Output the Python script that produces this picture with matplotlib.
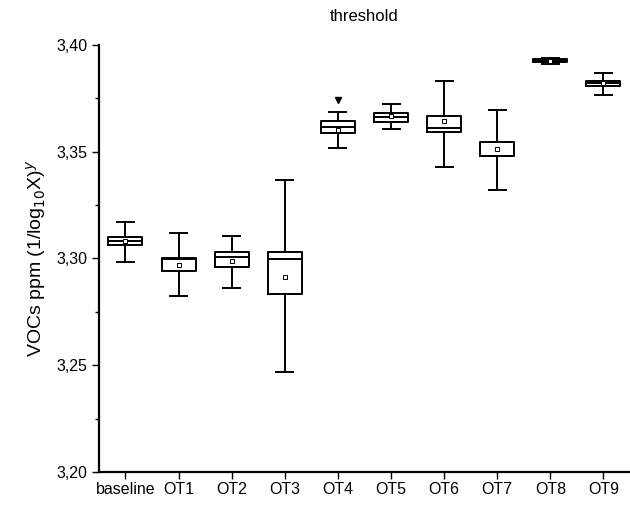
#!/usr/bin/env python3
# -*- coding:utf-8 -*-
from matplotlib import pyplot as plt
from matplotlib.ticker import MultipleLocator, FormatStrFormatter

plt.rcParams['font.family'] = ['Liberation Sans', 'DejaVu Sans']

labels = ["baseline", "OT1", "OT2", "OT3", "OT4", "OT5", "OT6", "OT7", "OT8", "OT9"]
whisk_lo = [3.2984, 3.2826, 3.2862, 3.2467, 3.3516, 3.3608, 3.3430, 3.3322, 3.3912, 3.3767]
q1 = [3.3062, 3.2943, 3.2962, 3.2832, 3.3586, 3.3641, 3.3594, 3.3479, 3.3918, 3.3810]
medians = [3.3081, 3.2999, 3.3008, 3.2999, 3.3617, 3.3661, 3.3613, 3.3479, 3.3925, 3.3821]
q3 = [3.3099, 3.3002, 3.3029, 3.3029, 3.3645, 3.3680, 3.3669, 3.3546, 3.3932, 3.3833]
whisk_hi = [3.3172, 3.3121, 3.3105, 3.3368, 3.3686, 3.3724, 3.3831, 3.3696, 3.3938, 3.3867]
means = [3.3081, 3.2971, 3.2990, 3.2913, 3.3602, 3.3667, 3.3645, 3.3511, 3.3925, 3.3821]
outliers = [[], [], [], [], [3.3742], [], [], [], [], []]

stats = []
for i in range(len(labels)):
    stats.append({
        "label": labels[i],
        "whislo": whisk_lo[i], "q1": q1[i], "med": medians[i],
        "q3": q3[i], "whishi": whisk_hi[i],
        "mean": means[i], "fliers": outliers[i],
    })

fig = plt.figure(figsize=(6.30, 5.09), dpi=100)
ax = fig.add_axes([0.157, 0.0727, 0.843, 0.839])

lw = 1.4
ax.bxp(stats, positions=range(1, len(labels) + 1), widths=0.64,
       showmeans=True, showfliers=True,
       boxprops=dict(color="black", linewidth=lw),
       medianprops=dict(color="black", linewidth=lw),
       whiskerprops=dict(color="black", linewidth=lw),
       capprops=dict(color="black", linewidth=lw),
       capwidths=0.32,
       meanprops=dict(marker="s", markersize=3, markerfacecolor="white",
                      markeredgecolor="black", markeredgewidth=0.7),
       flierprops=dict(marker="v", markersize=4, markerfacecolor="black",
                       markeredgecolor="black"))

ax.set_xlim(0.5, 10.5)
ax.set_ylim(3.20, 3.40)
ax.yaxis.set_major_locator(MultipleLocator(0.05))
ax.yaxis.set_minor_locator(MultipleLocator(0.025))
ax.yaxis.set_major_formatter(FormatStrFormatter("%.2f"))
ax.set_yticklabels([t.get_text().replace(".", ",") for t in ax.get_yticklabels()])
ax.set_xticks(range(1, len(labels) + 1))
ax.set_xticklabels(labels)

ax.spines["top"].set_visible(False)
ax.spines["right"].set_visible(False)
ax.spines["left"].set_linewidth(1.6)
ax.spines["bottom"].set_linewidth(1.6)
ax.tick_params(axis="both", which="major", direction="out", length=5, width=1, labelsize=11.5)
ax.tick_params(axis="y", which="minor", direction="out", length=3, width=1)
ax.tick_params(axis="x", pad=2)

ax.set_ylabel("VOCs ppm (1/log$_{10}$X)$^{y}$", fontsize=14, labelpad=6)
ax.set_title("threshold", fontsize=12, pad=17)

fig.savefig("out.png", dpi=100)
